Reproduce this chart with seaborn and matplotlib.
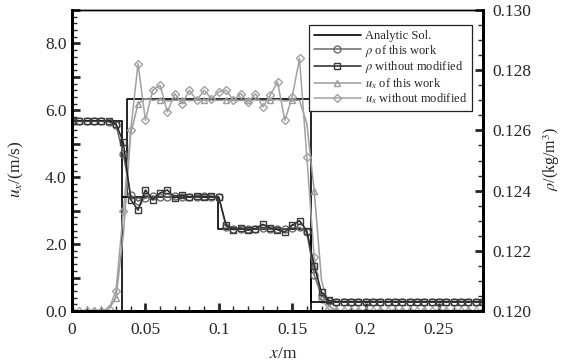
import numpy as np
import pandas as pd
import matplotlib
matplotlib.use('Agg')
import matplotlib.pyplot as plt
import seaborn as sns
from matplotlib.ticker import MultipleLocator, FuncFormatter, FormatStrFormatter
from matplotlib.lines import Line2D

# ---------------- data ----------------
x_grid = [0.000, 0.005, 0.010, 0.015, 0.020, 0.025, 0.030, 0.035, 0.040, 0.045,
          0.050, 0.055, 0.060, 0.065, 0.070, 0.075, 0.080, 0.085, 0.090, 0.095,
          0.100, 0.105, 0.110, 0.115, 0.120, 0.125, 0.130, 0.135, 0.140, 0.145,
          0.150, 0.155, 0.160, 0.165, 0.170, 0.175, 0.180, 0.185, 0.190, 0.195,
          0.200, 0.205, 0.210, 0.215, 0.220, 0.225, 0.230, 0.235, 0.240, 0.245,
          0.250, 0.255, 0.260, 0.265, 0.270, 0.275, 0.280]

# velocity u_x (m/s)
u_this = [0.0, 0.0, 0.0, 0.0, 0.0, 0.05, 0.4, 2.3, 5.3, 6.2,
          6.35, 6.3, 6.32, 6.28, 6.3, 6.31, 6.29, 6.3, 6.31, 6.3,
          6.3, 6.31, 6.29, 6.3, 6.3, 6.31, 6.29, 6.3, 6.32, 6.28,
          6.3, 6.3, 5.6, 3.6, 0.9, 0.15, 0.02, 0.0, 0.0, 0.0,
          0.0, 0.0, 0.0, 0.0, 0.0, 0.0, 0.0, 0.0, 0.0, 0.0,
          0.0, 0.0, 0.0, 0.0, 0.0, 0.0, 0.0]
u_without = [0.0, 0.0, 0.0, 0.0, 0.0, 0.05, 0.6, 3.0, 5.4, 7.4,
             5.7, 6.6, 6.75, 5.95, 6.5, 6.2, 6.6, 6.3, 6.6, 6.35,
             6.55, 6.6, 6.3, 6.5, 6.25, 6.5, 6.1, 6.45, 6.85, 5.7,
             6.4, 7.55, 4.6, 1.6, 0.35, 0.05, 0.0, 0.0, 0.0, 0.0,
             0.0, 0.0, 0.0, 0.0, 0.0, 0.0, 0.0, 0.0, 0.0, 0.0,
             0.0, 0.0, 0.0, 0.0, 0.0, 0.0, 0.0]

# density rho (kg/m^3)
rho_this = [0.12630, 0.12630, 0.12630, 0.12630, 0.12630, 0.12629, 0.12618, 0.12520, 0.12385, 0.12365,
            0.12375, 0.12382, 0.12380, 0.12379, 0.12381, 0.12380, 0.12380, 0.12379, 0.12381, 0.12380,
            0.12378, 0.12280, 0.12273, 0.12274, 0.12272, 0.12273, 0.12275, 0.12272, 0.12274, 0.12273,
            0.12275, 0.12278, 0.12262, 0.12120, 0.12050, 0.12033, 0.12031, 0.12031, 0.12031, 0.12031,
            0.12031, 0.12031, 0.12031, 0.12031, 0.12031, 0.12031, 0.12031, 0.12031, 0.12031, 0.12031,
            0.12031, 0.12031, 0.12031, 0.12031, 0.12031, 0.12031, 0.12031]
rho_without = [0.12632, 0.12632, 0.12632, 0.12632, 0.12632, 0.12631, 0.12622, 0.12560, 0.12370, 0.12335,
               0.12402, 0.12370, 0.12392, 0.12402, 0.12376, 0.12384, 0.12379, 0.12382, 0.12380, 0.12381,
               0.12378, 0.12285, 0.12270, 0.12276, 0.12268, 0.12274, 0.12288, 0.12276, 0.12270, 0.12262,
               0.12285, 0.12300, 0.12266, 0.12150, 0.12062, 0.12035, 0.12031, 0.12031, 0.12031, 0.12031,
               0.12031, 0.12031, 0.12031, 0.12031, 0.12031, 0.12031, 0.12031, 0.12031, 0.12031, 0.12031,
               0.12031, 0.12031, 0.12031, 0.12031, 0.12031, 0.12031, 0.12031]

# analytic solution (step profiles)
x_exact_u = [0.0, 0.0338, 0.0338, 0.0376, 0.0376, 0.1626, 0.1626, 0.28]
u_exact = [0.0, 0.0, 3.42, 3.42, 6.33, 6.33, 0.0, 0.0]
x_exact_rho = [0.0, 0.0338, 0.0338, 0.0995, 0.0995, 0.1626, 0.1626, 0.28]
rho_exact = [0.12630, 0.12630, 0.12380, 0.12380, 0.12273, 0.12273, 0.12031, 0.12031]

x_ticks = [0, 0.05, 0.1, 0.15, 0.2, 0.25]
x_ticklabels = ['0', '0.05', '0.1', '0.15', '0.2', '0.25']

legend_labels = ['Analytic Sol.', r'$\rho$ of this work', r'$\rho$ without modified',
                 r'$u_x$ of this work', r'$u_x$ without modified']

# ---------------- style ----------------
sns.set_style('white')
plt.rcParams['font.family'] = ['Liberation Serif', 'DejaVu Serif']
plt.rcParams['mathtext.fontset'] = 'stix'

fig = plt.figure(figsize=(5.64, 3.63), dpi=100)
ax = fig.add_axes([72 / 564, 52 / 363, 411 / 564, 301 / 363])
ax2 = ax.twinx()

c_exact = 'black'
c_rt = '#6a6a6a'
c_rw = '#262626'
c_ut = '#9c9c9c'
c_uw = '#a2a2a2'

# velocity on left axis
sns.lineplot(x=x_exact_u, y=u_exact, ax=ax, estimator=None, sort=False,
             color=c_exact, lw=1.2, legend=False)
sns.lineplot(x=x_grid, y=u_this, ax=ax, estimator=None, sort=False,
             color=c_ut, lw=1.1, marker='^', markersize=5, markevery=3,
             markerfacecolor='none', markeredgecolor=c_ut, markeredgewidth=1.0, legend=False)
sns.lineplot(x=x_grid, y=u_without, ax=ax, estimator=None, sort=False,
             color=c_uw, lw=1.1, marker='D', markersize=4.2,
             markerfacecolor='none', markeredgecolor=c_uw, markeredgewidth=1.0, legend=False)

# density on right axis
sns.lineplot(x=x_exact_rho, y=rho_exact, ax=ax2, estimator=None, sort=False,
             color=c_exact, lw=1.2, legend=False)
sns.lineplot(x=x_grid, y=rho_this, ax=ax2, estimator=None, sort=False,
             color=c_rt, lw=1.1, marker='o', markersize=5,
             markerfacecolor='none', markeredgecolor=c_rt, markeredgewidth=1.0, legend=False)
sns.lineplot(x=x_grid, y=rho_without, ax=ax2, estimator=None, sort=False,
             color=c_rw, lw=1.1, marker='s', markersize=4.2,
             markerfacecolor='none', markeredgecolor='#3a3a3a', markeredgewidth=1.0, legend=False)

# axes limits & ticks
ax.set_xlim(0, 0.28)
ax.set_ylim(0, 9)
ax2.set_ylim(0.120, 0.130)

ax.set_xticks(x_ticks)
ax.set_xticklabels(x_ticklabels)
ax.xaxis.set_minor_locator(MultipleLocator(0.01))
ax.yaxis.set_major_locator(MultipleLocator(1.0))
ax.yaxis.set_minor_locator(MultipleLocator(0.2))
ax.yaxis.set_major_formatter(FuncFormatter(lambda v, p: ('%.1f' % v) if int(round(v)) % 2 == 0 else ''))
ax2.yaxis.set_major_locator(MultipleLocator(0.002))
ax2.yaxis.set_minor_locator(MultipleLocator(0.0005))
ax2.yaxis.set_major_formatter(FormatStrFormatter('%.3f'))

ax.tick_params(axis='x', which='major', direction='in', length=6, width=2, labelsize=12.5, pad=8,
               top=False, bottom=True)
ax.tick_params(axis='x', which='minor', direction='in', length=3.5, width=1, top=False, bottom=True)
ax.tick_params(axis='y', which='major', direction='in', length=6, width=2, labelsize=12.5, pad=4,
               left=True, right=False)
ax.tick_params(axis='y', which='minor', direction='in', length=3.5, width=1, left=True, right=False)
ax2.tick_params(axis='y', which='major', direction='in', length=6, width=2, labelsize=12.5, pad=7,
                right=True, left=False)
ax2.tick_params(axis='y', which='minor', direction='in', length=3.5, width=1, right=True, left=False)

for a in (ax, ax2):
    for side in ('left', 'right', 'bottom'):
        a.spines[side].set_linewidth(2.0)
        a.spines[side].set_color('black')
    a.spines['top'].set_linewidth(1.0)
    a.spines['top'].set_color('black')

ax.set_xlabel(r'$x$/m', fontsize=12.5)
ax.xaxis.set_label_coords(0.513, -0.115)
ax.set_ylabel(r'$u_x$/(m/s)', fontsize=12.5)
ax.yaxis.set_label_coords(-0.112, 0.47)
ax2.set_ylabel(r'$\rho$/(kg/m$^3$)', fontsize=11.5)
ax2.yaxis.set_label_coords(1.143, 0.505)

# legend
handles = [
    Line2D([], [], color=c_exact, lw=1.2),
    Line2D([], [], color=c_rt, lw=1.1, marker='o', markersize=5, markerfacecolor='none',
           markeredgecolor=c_rt, markeredgewidth=1.0),
    Line2D([], [], color=c_rw, lw=1.1, marker='s', markersize=4.2, markerfacecolor='none',
           markeredgecolor='#3a3a3a', markeredgewidth=1.0),
    Line2D([], [], color=c_ut, lw=1.1, marker='^', markersize=5, markerfacecolor='none',
           markeredgecolor=c_ut, markeredgewidth=1.0),
    Line2D([], [], color=c_uw, lw=1.1, marker='D', markersize=4.2, markerfacecolor='none',
           markeredgecolor=c_uw, markeredgewidth=1.0),
]
leg = ax2.legend(handles, legend_labels, loc='upper right', bbox_to_anchor=(0.973, 0.950),
                 borderaxespad=0, fontsize=9, frameon=True, fancybox=False, framealpha=1,
                 edgecolor='#222222', handlelength=3.8, handletextpad=0.3, labelspacing=0.05,
                 borderpad=0.4, numpoints=1)
leg.get_frame().set_linewidth(0.9)

fig.savefig('out.png', dpi=100)
